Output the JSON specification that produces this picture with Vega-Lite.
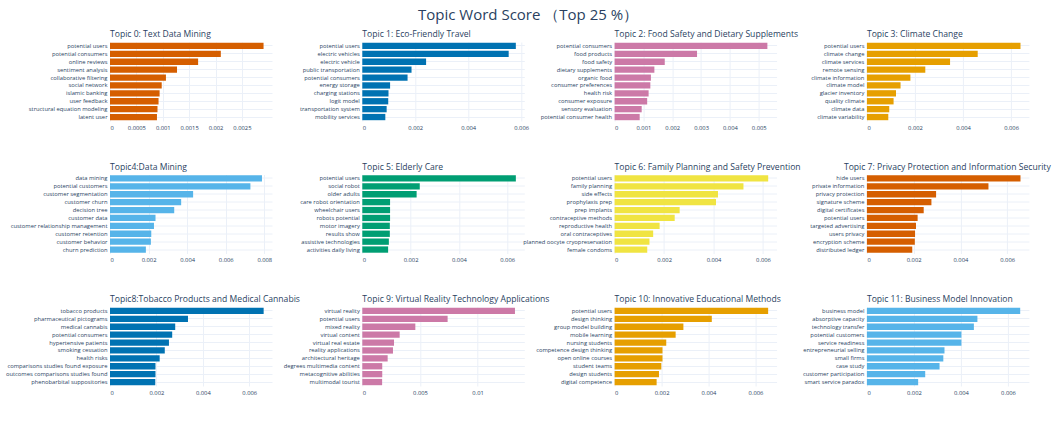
{
  "$schema": "https://vega.github.io/schema/vega-lite/v6.json",
  "padding": {"left": 5, "top": 8, "right": 5, "bottom": 5},
  "background": "white",
  "title": {"text": "Topic Word Score （Top 25 %）", "fontSize": 15, "anchor": "middle", "frame": "bounds", "fontWeight": "normal", "color": "#2a3f5f", "offset": 7},
  "data": {"values": [
    {"topic": 0, "word": "potential users", "score": 0.00291},
    {"topic": 0, "word": "potential consumers", "score": 0.00210},
    {"topic": 0, "word": "online reviews", "score": 0.00167},
    {"topic": 0, "word": "sentiment analysis", "score": 0.00127},
    {"topic": 0, "word": "collaborative filtering", "score": 0.00106},
    {"topic": 0, "word": "social network", "score": 0.00098},
    {"topic": 0, "word": "islamic banking", "score": 0.00094},
    {"topic": 0, "word": "user feedback", "score": 0.00092},
    {"topic": 0, "word": "structural equation modeling", "score": 0.00090},
    {"topic": 0, "word": "latent user", "score": 0.00089},
    {"topic": 1, "word": "potential users", "score": 0.00580},
    {"topic": 1, "word": "electric vehicles", "score": 0.00553},
    {"topic": 1, "word": "electric vehicle", "score": 0.00241},
    {"topic": 1, "word": "public transportation", "score": 0.00186},
    {"topic": 1, "word": "potential consumers", "score": 0.00171},
    {"topic": 1, "word": "energy storage", "score": 0.00105},
    {"topic": 1, "word": "charging stations", "score": 0.00099},
    {"topic": 1, "word": "logit model", "score": 0.00098},
    {"topic": 1, "word": "transportation system", "score": 0.00092},
    {"topic": 1, "word": "mobility services", "score": 0.00087},
    {"topic": 2, "word": "potential consumers", "score": 0.00530},
    {"topic": 2, "word": "food products", "score": 0.00286},
    {"topic": 2, "word": "food safety", "score": 0.00174},
    {"topic": 2, "word": "dietary supplements", "score": 0.00138},
    {"topic": 2, "word": "organic food", "score": 0.00126},
    {"topic": 2, "word": "consumer preferences", "score": 0.00124},
    {"topic": 2, "word": "health risk", "score": 0.00118},
    {"topic": 2, "word": "consumer exposure", "score": 0.00113},
    {"topic": 2, "word": "sensory evaluation", "score": 0.00094},
    {"topic": 2, "word": "potential consumer health", "score": 0.00087},
    {"topic": 3, "word": "potential users", "score": 0.00639},
    {"topic": 3, "word": "climate change", "score": 0.00461},
    {"topic": 3, "word": "climate services", "score": 0.00346},
    {"topic": 3, "word": "remote sensing", "score": 0.00243},
    {"topic": 3, "word": "climate information", "score": 0.00181},
    {"topic": 3, "word": "climate model", "score": 0.00140},
    {"topic": 3, "word": "glacier inventory", "score": 0.00121},
    {"topic": 3, "word": "quality climate", "score": 0.00111},
    {"topic": 3, "word": "climate data", "score": 0.00093},
    {"topic": 3, "word": "climate variability", "score": 0.00089},
    {"topic": 4, "word": "data mining", "score": 0.00788},
    {"topic": 4, "word": "potential customers", "score": 0.00728},
    {"topic": 4, "word": "customer segmentation", "score": 0.00431},
    {"topic": 4, "word": "customer churn", "score": 0.00369},
    {"topic": 4, "word": "decision tree", "score": 0.00333},
    {"topic": 4, "word": "customer data", "score": 0.00236},
    {"topic": 4, "word": "customer relationship management", "score": 0.00228},
    {"topic": 4, "word": "customer retention", "score": 0.00214},
    {"topic": 4, "word": "customer behavior", "score": 0.00212},
    {"topic": 4, "word": "churn prediction", "score": 0.00186},
    {"topic": 5, "word": "potential users", "score": 0.00636},
    {"topic": 5, "word": "social robot", "score": 0.00238},
    {"topic": 5, "word": "older adults", "score": 0.00225},
    {"topic": 5, "word": "care robot orientation", "score": 0.00115},
    {"topic": 5, "word": "wheelchair users", "score": 0.00115},
    {"topic": 5, "word": "robots potential", "score": 0.00115},
    {"topic": 5, "word": "motor imagery", "score": 0.00114},
    {"topic": 5, "word": "results show", "score": 0.00114},
    {"topic": 5, "word": "assistive technologies", "score": 0.00110},
    {"topic": 5, "word": "activities daily living", "score": 0.00107},
    {"topic": 6, "word": "potential users", "score": 0.00621},
    {"topic": 6, "word": "family planning", "score": 0.00521},
    {"topic": 6, "word": "side effects", "score": 0.00418},
    {"topic": 6, "word": "prophylaxis prep", "score": 0.00410},
    {"topic": 6, "word": "prep implants", "score": 0.00263},
    {"topic": 6, "word": "contraceptive methods", "score": 0.00243},
    {"topic": 6, "word": "reproductive health", "score": 0.00182},
    {"topic": 6, "word": "oral contraceptives", "score": 0.00156},
    {"topic": 6, "word": "planned oocyte cryopreservation", "score": 0.00141},
    {"topic": 6, "word": "female condoms", "score": 0.00132},
    {"topic": 7, "word": "hide users", "score": 0.00657},
    {"topic": 7, "word": "private information", "score": 0.00520},
    {"topic": 7, "word": "privacy protection", "score": 0.00296},
    {"topic": 7, "word": "signature scheme", "score": 0.00276},
    {"topic": 7, "word": "digital certificates", "score": 0.00243},
    {"topic": 7, "word": "potential users", "score": 0.00217},
    {"topic": 7, "word": "targeted advertising", "score": 0.00210},
    {"topic": 7, "word": "users privacy", "score": 0.00206},
    {"topic": 7, "word": "encryption scheme", "score": 0.00205},
    {"topic": 7, "word": "distributed ledger", "score": 0.00194},
    {"topic": 8, "word": "tobacco products", "score": 0.00662},
    {"topic": 8, "word": "pharmaceutical pictograms", "score": 0.00336},
    {"topic": 8, "word": "medical cannabis", "score": 0.00281},
    {"topic": 8, "word": "potential consumers", "score": 0.00268},
    {"topic": 8, "word": "hypertensive patients", "score": 0.00254},
    {"topic": 8, "word": "smoking cessation", "score": 0.00236},
    {"topic": 8, "word": "health risks", "score": 0.00214},
    {"topic": 8, "word": "comparisons studies found exposure", "score": 0.00196},
    {"topic": 8, "word": "outcomes comparisons studies found", "score": 0.00196},
    {"topic": 8, "word": "phenobarbital suppositories", "score": 0.00195},
    {"topic": 9, "word": "virtual reality", "score": 0.01324},
    {"topic": 9, "word": "potential users", "score": 0.00740},
    {"topic": 9, "word": "mixed reality", "score": 0.00460},
    {"topic": 9, "word": "virtual content", "score": 0.00324},
    {"topic": 9, "word": "virtual real estate", "score": 0.00275},
    {"topic": 9, "word": "reality applications", "score": 0.00266},
    {"topic": 9, "word": "architectural heritage", "score": 0.00220},
    {"topic": 9, "word": "degrees multimedia content", "score": 0.00173},
    {"topic": 9, "word": "metacognitive abilities", "score": 0.00173},
    {"topic": 9, "word": "multimodal tourist", "score": 0.00172},
    {"topic": 10, "word": "potential users", "score": 0.00654},
    {"topic": 10, "word": "design thinking", "score": 0.00414},
    {"topic": 10, "word": "group model building", "score": 0.00293},
    {"topic": 10, "word": "mobile learning", "score": 0.00260},
    {"topic": 10, "word": "nursing students", "score": 0.00220},
    {"topic": 10, "word": "competence design thinking", "score": 0.00204},
    {"topic": 10, "word": "open online courses", "score": 0.00204},
    {"topic": 10, "word": "student teams", "score": 0.00199},
    {"topic": 10, "word": "design students", "score": 0.00189},
    {"topic": 10, "word": "digital competence", "score": 0.00179},
    {"topic": 11, "word": "business model", "score": 0.00652},
    {"topic": 11, "word": "absorptive capacity", "score": 0.00470},
    {"topic": 11, "word": "technology transfer", "score": 0.00455},
    {"topic": 11, "word": "potential customers", "score": 0.00402},
    {"topic": 11, "word": "service readiness", "score": 0.00402},
    {"topic": 11, "word": "entrepreneurial selling", "score": 0.00330},
    {"topic": 11, "word": "small firms", "score": 0.00325},
    {"topic": 11, "word": "case study", "score": 0.00309},
    {"topic": 11, "word": "customer participation", "score": 0.00248},
    {"topic": 11, "word": "smart service paradox", "score": 0.00218}
  ]},
  "columns": 4,
  "bounds": "flush",
  "spacing": {"row": 53.5, "column": 90.3},
  "concat": [
    {"width": 162, "height": 79, "title": "Topic 0: Text Data Mining",
     "transform": [{"filter": "datum.topic == 0"}],
     "mark": {"type": "bar", "color": "#D55E00"},
     "encoding": {
       "y": {"field": "word", "type": "nominal", "sort": null, "title": null},
       "x": {"field": "score", "type": "quantitative", "title": null, "scale": {"domain": [0, 0.00307], "nice": false},
             "axis": {"values": [0, 0.0005, 0.001, 0.0015, 0.002, 0.0025], "format": "~g"}}}},
    {"width": 162, "height": 79, "title": "Topic 1: Eco-Friendly Travel",
     "transform": [{"filter": "datum.topic == 1"}],
     "mark": {"type": "bar", "color": "#0072B2"},
     "encoding": {
       "y": {"field": "word", "type": "nominal", "sort": null, "title": null},
       "x": {"field": "score", "type": "quantitative", "title": null, "scale": {"domain": [0, 0.00612], "nice": false},
             "axis": {"values": [0, 0.002, 0.004, 0.006], "format": "~g"}}}},
    {"width": 162, "height": 79, "title": "Topic 2: Food Safety and Dietary Supplements",
     "transform": [{"filter": "datum.topic == 2"}],
     "mark": {"type": "bar", "color": "#CC79A7"},
     "encoding": {
       "y": {"field": "word", "type": "nominal", "sort": null, "title": null},
       "x": {"field": "score", "type": "quantitative", "title": null, "scale": {"domain": [0, 0.00562], "nice": false},
             "axis": {"values": [0, 0.001, 0.002, 0.003, 0.004, 0.005], "format": "~g"}}}},
    {"width": 162, "height": 79, "title": "Topic 3: Climate Change",
     "transform": [{"filter": "datum.topic == 3"}],
     "mark": {"type": "bar", "color": "#E69F00"},
     "encoding": {
       "y": {"field": "word", "type": "nominal", "sort": null, "title": null},
       "x": {"field": "score", "type": "quantitative", "title": null, "scale": {"domain": [0, 0.00674], "nice": false},
             "axis": {"values": [0, 0.002, 0.004, 0.006], "format": "~g"}}}},
    {"width": 162, "height": 79, "title": "Topic4:Data Mining",
     "transform": [{"filter": "datum.topic == 4"}],
     "mark": {"type": "bar", "color": "#56B4E9"},
     "encoding": {
       "y": {"field": "word", "type": "nominal", "sort": null, "title": null},
       "x": {"field": "score", "type": "quantitative", "title": null, "scale": {"domain": [0, 0.0084], "nice": false},
             "axis": {"values": [0, 0.002, 0.004, 0.006, 0.008], "format": "~g"}}}},
    {"width": 162, "height": 79, "title": "Topic 5: Elderly Care",
     "transform": [{"filter": "datum.topic == 5"}],
     "mark": {"type": "bar", "color": "#009E73"},
     "encoding": {
       "y": {"field": "word", "type": "nominal", "sort": null, "title": null},
       "x": {"field": "score", "type": "quantitative", "title": null, "scale": {"domain": [0, 0.00671], "nice": false},
             "axis": {"values": [0, 0.002, 0.004, 0.006], "format": "~g"}}}},
    {"width": 162, "height": 79, "title": "Topic 6: Family Planning and Safety Prevention",
     "transform": [{"filter": "datum.topic == 6"}],
     "mark": {"type": "bar", "color": "#F0E442"},
     "encoding": {
       "y": {"field": "word", "type": "nominal", "sort": null, "title": null},
       "x": {"field": "score", "type": "quantitative", "title": null, "scale": {"domain": [0, 0.00655], "nice": false},
             "axis": {"values": [0, 0.002, 0.004, 0.006], "format": "~g"}}}},
    {"width": 162, "height": 79, "title": {"text": "Topic 7: Privacy Protection and Information Security", "dx": -23},
     "transform": [{"filter": "datum.topic == 7"}],
     "mark": {"type": "bar", "color": "#D55E00"},
     "encoding": {
       "y": {"field": "word", "type": "nominal", "sort": null, "title": null},
       "x": {"field": "score", "type": "quantitative", "title": null, "scale": {"domain": [0, 0.00693], "nice": false},
             "axis": {"values": [0, 0.002, 0.004, 0.006], "format": "~g"}}}},
    {"width": 162, "height": 79, "title": "Topic8:Tobacco Products and Medical Cannabis",
     "transform": [{"filter": "datum.topic == 8"}],
     "mark": {"type": "bar", "color": "#0072B2"},
     "encoding": {
       "y": {"field": "word", "type": "nominal", "sort": null, "title": null},
       "x": {"field": "score", "type": "quantitative", "title": null, "scale": {"domain": [0, 0.00698], "nice": false},
             "axis": {"values": [0, 0.002, 0.004, 0.006], "format": "~g"}}}},
    {"width": 162, "height": 79, "title": "Topic 9: Virtual Reality Technology Applications",
     "transform": [{"filter": "datum.topic == 9"}],
     "mark": {"type": "bar", "color": "#CC79A7"},
     "encoding": {
       "y": {"field": "word", "type": "nominal", "sort": null, "title": null},
       "x": {"field": "score", "type": "quantitative", "title": null, "scale": {"domain": [0, 0.01405], "nice": false},
             "axis": {"values": [0, 0.005, 0.01], "format": "~g"}}}},
    {"width": 162, "height": 79, "title": "Topic 10: Innovative Educational Methods",
     "transform": [{"filter": "datum.topic == 10"}],
     "mark": {"type": "bar", "color": "#E69F00"},
     "encoding": {
       "y": {"field": "word", "type": "nominal", "sort": null, "title": null},
       "x": {"field": "score", "type": "quantitative", "title": null, "scale": {"domain": [0, 0.0069], "nice": false},
             "axis": {"values": [0, 0.002, 0.004, 0.006], "format": "~g"}}}},
    {"width": 162, "height": 79, "title": "Topic 11: Business Model Innovation",
     "transform": [{"filter": "datum.topic == 11"}],
     "mark": {"type": "bar", "color": "#56B4E9"},
     "encoding": {
       "y": {"field": "word", "type": "nominal", "sort": null, "title": null},
       "x": {"field": "score", "type": "quantitative", "title": null, "scale": {"domain": [0, 0.00689], "nice": false},
             "axis": {"values": [0, 0.002, 0.004, 0.006], "format": "~g"}}}}
  ],
  "config": {
    "font": "Open Sans",
    "view": {"stroke": null},
    "scale": {"bandPaddingInner": 0.2, "bandPaddingOuter": 0.1},
    "axis": {"labelFont": "Open Sans", "labelFontSize": 5.8, "labelColor": "#2a3f5f", "gridColor": "#EBF0F8", "gridWidth": 1, "domain": false, "ticks": false, "grid": true, "labelPadding": 3},
    "axisY": {"grid": true, "labelPadding": 3},
    "axisX": {"labelPadding": 3},
    "title": {"font": "Open Sans", "fontSize": 8.6, "fontWeight": "normal", "color": "#2a3f5f", "anchor": "start", "frame": "group", "offset": 3}
  }
}
